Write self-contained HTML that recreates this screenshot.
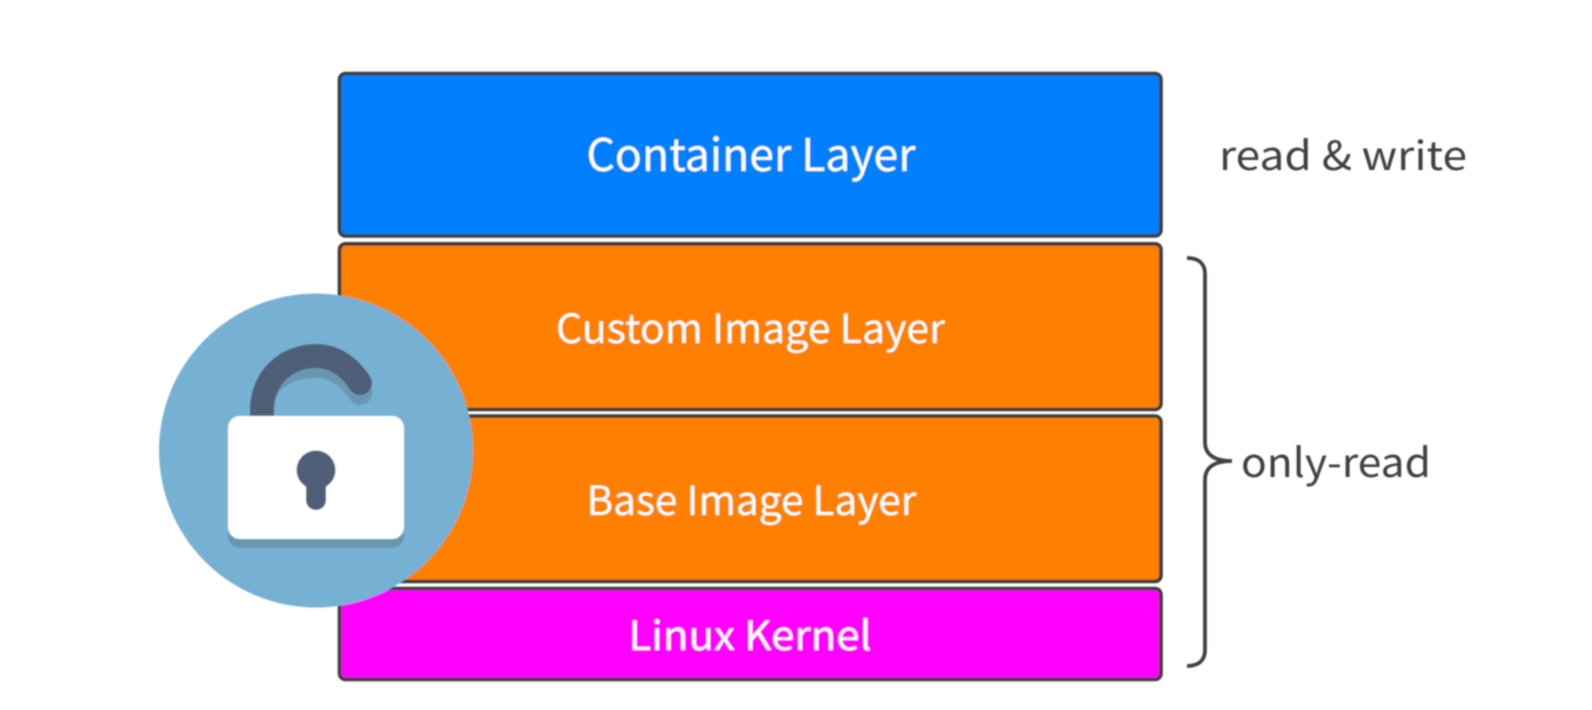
<!DOCTYPE html>
<html>
<head>
<meta charset="utf-8">
<style>
html,body{margin:0;padding:0;background:#fff;width:1592px;height:710px;overflow:hidden}
svg{display:block}
text{font-family:"Noto Sans CJK SC","Liberation Sans",sans-serif}
</style>
</head>
<body>
<svg width="1592" height="710" viewBox="0 0 1592 710" xmlns="http://www.w3.org/2000/svg">
<defs><filter id="b" x="-5%" y="-5%" width="110%" height="110%"><feGaussianBlur stdDeviation="0.7"/></filter></defs>
<g filter="url(#b)">
<g stroke="#3c3c3c" stroke-width="3.6">
<rect x="339.500" y="73.500" width="821.500" height="162.500" rx="6" fill="#007fff"/>
<rect x="339.500" y="243.800" width="821.500" height="165.700" rx="6" fill="#ff7f00"/>
<rect x="339.500" y="416" width="821.500" height="165.500" rx="6" fill="#ff7f00"/>
<rect x="339.500" y="588.500" width="821.500" height="91" rx="6" fill="#ff00ff"/>
</g>
<g fill="#fff">
<text x="586.500" y="171" font-size="45" textLength="329" lengthAdjust="spacingAndGlyphs">Container Layer</text>
<text x="556" y="343" font-size="40" textLength="389" lengthAdjust="spacingAndGlyphs">Custom Image Layer</text>
<text x="586.500" y="515" font-size="40" textLength="330" lengthAdjust="spacingAndGlyphs">Base Image Layer</text>
<text x="628.500" y="650" font-size="40" textLength="243" lengthAdjust="spacingAndGlyphs">Linux Kernel</text>
</g>
<g fill="#3f3f3f">
<text x="1219" y="170" font-size="40" textLength="248" lengthAdjust="spacingAndGlyphs">read &amp; write</text>
<text x="1241" y="477" font-size="40" textLength="190" lengthAdjust="spacingAndGlyphs">only-read</text>
</g>
<path d="M1187 258 C1199 258 1205 264 1205 274 V442 C1205 453 1212 461 1232 461 C1212 461 1205 469 1205 480 V650 C1205 660 1199 666 1187 666" fill="none" stroke="#3f3f3f" stroke-width="3.800"/>
<circle cx="316" cy="450.500" r="157" fill="#76b1d4"/>
<path d="M262 420 V410 C262 381 286 366 316 366 C334 366 349 376 360 393" fill="none" stroke="#6a97b0" stroke-width="24" stroke-linecap="round"/>
<path d="M262 420 V410 C262 378 286 356 316 356 C334 356 349 366 360 383" fill="none" stroke="#4f5f78" stroke-width="24" stroke-linecap="round"/>
<rect x="228" y="425" width="176" height="123" rx="12" fill="#6a97b0"/>
<rect x="228" y="416" width="176" height="123" rx="12" fill="#fff"/>
<circle cx="316" cy="470" r="19.500" fill="#4f5f78"/>
<path d="M316 480 V500" stroke="#4f5f78" stroke-width="20" stroke-linecap="round"/>
</g>
</svg>
</body>
</html>
